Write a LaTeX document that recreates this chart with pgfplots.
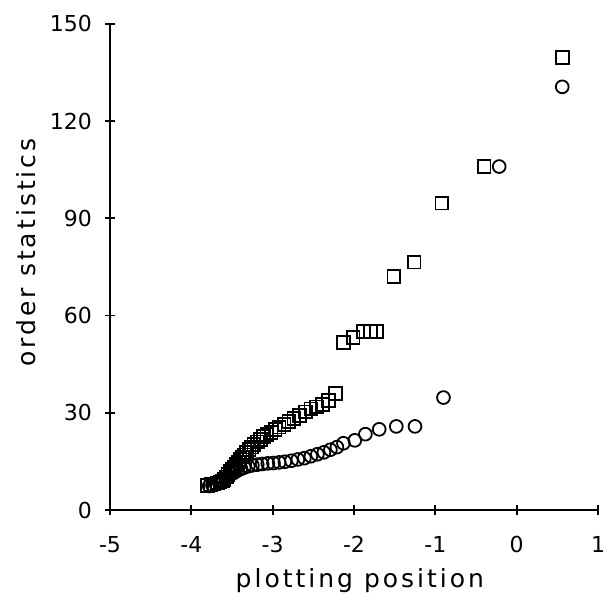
\documentclass[border=0pt]{standalone}
\usepackage{fontspec}
\setmainfont{DejaVu Sans}
\newfontfamily\plotfont[LetterSpace=12]{DejaVu Sans}
\usepackage{pgfplots}
\pgfplotsset{compat=1.18}
\begin{document}
\begin{tikzpicture}
\useasboundingbox (-55pt,-51.5pt) rectangle (247pt,255pt);
\begin{axis}[
  at={(0,0)}, anchor=south west,
  scale only axis, width=244pt, height=243pt,
  xmin=-5, xmax=1, ymin=0, ymax=150,
  axis x line=bottom, axis y line=left,
  axis line style={-, line width=1pt},
  xtick={-5,-4,-3,-2,-1,0,1},
  ytick={0,30,60,90,120,150},
  tick align=center, major tick length=5pt,
  tick style={line width=0.9pt, black},
  /pgf/number format/assume math mode=true,
  tick label style={font=\fontsize{11}{13}\selectfont},
  xticklabel style={yshift=-7pt},
  yticklabel style={xshift=-3pt},
  xlabel={\plotfont plotting position},
  ylabel={\plotfont order statistics},
  label style={font=\fontsize{12.5}{14}\selectfont},
  xlabel style={at={(axis description cs:0.512,-0.145)}, anchor=center},
  ylabel style={at={(axis description cs:-0.172,0.53)}, anchor=center, rotate=0},
  clip=false,
]
\addplot[only marks, mark=square, mark size=3.2pt, mark options={line width=0.9pt, black}] coordinates {
(-3.80,7.5) (-3.76,7.8) (-3.72,8.0) (-3.68,8.3) (-3.65,8.6) (-3.62,9.0) (-3.60,9.5)
(-3.57,10.2) (-3.55,11.0) (-3.52,11.8) (-3.50,12.5) (-3.47,13.2) (-3.45,14.0)
(-3.42,14.8) (-3.40,15.5) (-3.37,16.3) (-3.35,17.0) (-3.32,17.8) (-3.29,18.6)
(-3.26,19.4) (-3.23,20.2) (-3.19,21.0) (-3.15,21.8) (-3.11,22.6) (-3.07,23.3)
(-3.02,24.0) (-2.97,24.8) (-2.92,25.6) (-2.86,26.4) (-2.80,27.3) (-2.74,28.2)
(-2.67,29.2) (-2.60,30.3) (-2.53,31.2) (-2.46,31.8) (-2.39,32.6) (-2.31,33.8)
(-2.23,36.0)
(-2.13,51.7) (-2.01,53.2) (-1.88,55.0) (-1.80,55.2) (-1.72,55.0)
(-1.51,72.0) (-1.26,76.5) (-0.92,94.7) (-0.40,106.0) (0.56,139.6)
};
\addplot[only marks, mark=o, mark size=3.2pt, mark options={line width=0.9pt, black}] coordinates {
(-3.78,7.4) (-3.74,7.7) (-3.70,8.1) (-3.66,8.6) (-3.62,9.2) (-3.58,9.8) (-3.55,10.4)
(-3.51,11.0) (-3.47,11.6) (-3.43,12.2) (-3.39,12.7) (-3.35,13.1) (-3.30,13.5)
(-3.25,13.8) (-3.19,14.0) (-3.13,14.2) (-3.06,14.4) (-2.99,14.5) (-2.92,14.7)
(-2.85,14.9) (-2.77,15.2) (-2.69,15.6) (-2.61,16.0) (-2.53,16.6) (-2.45,17.2)
(-2.37,17.8) (-2.29,18.6) (-2.21,19.4)
(-2.13,20.6) (-1.99,21.5) (-1.86,23.4) (-1.69,24.9) (-1.48,25.8) (-1.25,25.8)
(-0.90,34.7) (-0.215,106.0) (0.56,130.6)
};
\end{axis}
\end{tikzpicture}
\end{document}
